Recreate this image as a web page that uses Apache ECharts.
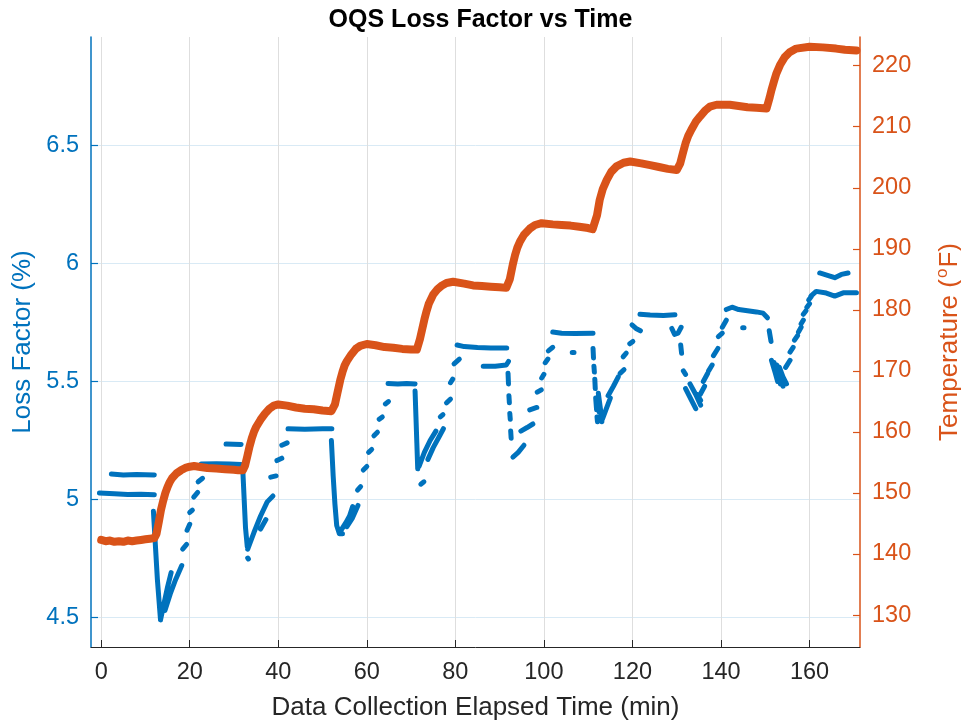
<!DOCTYPE html>
<html>
<head>
<meta charset="utf-8">
<title>OQS Loss Factor vs Time</title>
<script src="https://cdn.jsdelivr.net/npm/echarts@6/dist/echarts.min.js"></script>
<style>
  html, body { margin: 0; padding: 0; background: #ffffff; }
  #chart { width: 961px; height: 725px; }
</style>
</head>
<body>
<div id="chart"></div>
<script>
// Oil temperature readings (minutes, deg F)
const tempTime = [
  0, 1, 2, 3, 4, 5, 6, 7, 8, 9, 10, 11, 12,
  12.5, 13, 13.5, 14, 14.5, 15, 15.5, 16, 17, 18, 19, 20, 21, 22, 24, 26, 28, 30, 31, 32,
  32.5, 33, 33.5, 34, 34.5, 35, 36, 37, 38, 39, 40, 42, 44, 46, 48, 50, 52,
  52.8, 53.3, 54, 54.5, 55, 55.5, 56.5, 57.5, 58.5, 60, 62, 64, 66, 68, 70, 71.3,
  72, 72.5, 73, 73.5, 74, 75, 76, 77, 78, 79.5, 82, 84, 86, 88, 90, 91.5,
  92.3, 93, 93.5, 94, 94.6, 95.5, 96.8, 98, 99.5, 102, 104, 106, 108, 110, 111,
  112, 112.6, 113.3, 114.2, 115.2, 116.4, 118, 119.5, 122, 124, 126, 128, 130,
  130.8, 131.4, 132, 132.6, 133.3, 134.3, 135.3, 136.5, 137.5, 139, 142, 144, 146, 148, 150.3,
  151, 151.4, 152, 152.5, 153.4, 154.4, 155.5, 157, 160, 163, 166, 168, 170.6
];
const tempF = [
  142.3, 142.1, 142.2, 142.0, 142.1, 142.0, 142.2, 142.1, 142.2, 142.3, 142.4, 142.5, 142.6,
  143.3, 145.2, 147.2, 148.7, 150.0, 151.0, 151.8, 152.4, 153.2, 153.7, 154.1, 154.3, 154.4, 154.3, 154.1, 154.0, 153.9, 153.8, 153.7, 153.7,
  154.5, 156.0, 157.6, 158.9, 160.0, 160.8, 162.0, 163.0, 163.8, 164.3, 164.5, 164.3, 164.0, 163.8, 163.7, 163.5, 163.4,
  164.5, 166.2, 168.5, 169.8, 170.9, 171.6, 172.7, 173.6, 174.1, 174.4, 174.2, 173.9, 173.8, 173.6, 173.5, 173.5,
  175.2, 176.8, 178.4, 179.8, 181.0, 182.5, 183.4, 184.0, 184.4, 184.6, 184.3, 184.0, 183.9, 183.8, 183.7, 183.6,
  185.0, 187.5, 189.0, 190.2, 191.2, 192.3, 193.3, 193.9, 194.2, 194.0, 193.9, 193.8, 193.6, 193.4, 193.2,
  195.5, 198.0, 199.8, 201.3, 202.6, 203.5, 204.1, 204.3, 204.0, 203.7, 203.4, 203.1, 202.9,
  204.0, 205.7, 207.3, 208.5, 209.5, 210.8, 211.7, 212.7, 213.3, 213.6, 213.6, 213.4, 213.2, 213.1, 213.0,
  214.8, 216.0, 217.5, 218.7, 220.2, 221.4, 222.2, 222.8, 223.1, 223.0, 222.8, 222.6, 222.5
];

// Loss factor readings (minutes, %), grouped into the runs in which they were logged
const lossRuns = [
  // 142 F hold
  [[-0.4, 5.028], [3, 5.024], [6, 5.021], [9, 5.022], [12.0, 5.020]],
  [[2.3, 5.108], [5, 5.104], [8, 5.106], [12.0, 5.104]],
  [[11.8, 4.95], [12.2, 4.82], [12.7, 4.66], [13.4, 4.49]],
  [[13.4, 4.49], [14.2, 4.56], [15.0, 4.63], [15.8, 4.69]],
  [[14.4, 4.53], [15.6, 4.60], [16.8, 4.66], [18.2, 4.72]],
  [[14.9, 4.56], [15.3, 4.59]],
  [[18.4, 4.79], [19.3, 4.81]],
  [[19.4, 4.87], [20.0, 4.895]],
  [[20.0, 4.945], [20.6, 4.955]],
  [[20.9, 5.01], [21.8, 5.03]],
  [[21.9, 5.075], [22.9, 5.09]],
  // 154 F hold
  [[22.6, 5.15], [26, 5.152], [29, 5.15], [31.6, 5.148]],
  [[28.2, 5.235], [31.6, 5.233]],
  [[32.0, 5.12], [32.3, 5.0], [32.6, 4.88], [33.0, 4.80]],
  [[33.1, 4.752], [33.25, 4.748]],
  [[33.1, 4.79], [34.5, 4.86], [36.0, 4.93], [37.5, 4.99], [38.8, 5.015]],
  [[36.0, 4.875], [37.2, 4.915]],
  [[38.3, 5.095], [39.5, 5.10]],
  [[39.7, 5.165], [40.8, 5.175]],
  [[40.8, 5.23], [42.0, 5.24]],
  // 164 F hold
  [[42.2, 5.30], [46, 5.298], [50, 5.30], [52.1, 5.30]],
  [[52.0, 5.25], [52.4, 5.10], [52.8, 4.98], [53.2, 4.89], [53.8, 4.855], [54.5, 4.855]],
  [[54.2, 4.87], [55.2, 4.90], [56.1, 4.93], [56.8, 4.97]],
  [[55.5, 4.885], [56.7, 4.92], [58.0, 4.975]],
  [[57.9, 5.04], [58.6, 5.055]],
  [[59.2, 5.125], [60.0, 5.14]],
  [[60.4, 5.20], [61.1, 5.212]],
  [[61.6, 5.27], [62.4, 5.285]],
  [[62.8, 5.34], [63.5, 5.35]],
  [[64.2, 5.405], [64.9, 5.415]],
  // 174 F hold
  [[64.8, 5.492], [67, 5.49], [69, 5.492], [70.9, 5.49]],
  [[70.9, 5.46], [71.1, 5.35], [71.3, 5.24], [71.5, 5.13]],
  [[72.2, 5.065], [72.9, 5.075]],
  [[71.8, 5.14], [73.0, 5.20], [74.3, 5.25], [75.6, 5.29]],
  [[73.8, 5.17], [75.0, 5.22], [76.3, 5.265], [77.3, 5.30]],
  [[76.6, 5.35], [77.2, 5.36]],
  [[78.0, 5.41], [78.9, 5.425]],
  [[78.9, 5.495], [79.4, 5.51]],
  [[79.7, 5.575], [80.9, 5.595]],
  // 184 F hold
  [[80.4, 5.655], [82, 5.648], [85, 5.644], [88, 5.642], [91.6, 5.642]],
  [[86.3, 5.565], [89, 5.565], [91.5, 5.57], [92.0, 5.585]],
  [[91.9, 5.535], [92.0, 5.49]],
  [[92.1, 5.44], [92.2, 5.41]],
  [[92.3, 5.365], [92.4, 5.34]],
  [[92.5, 5.29], [92.6, 5.26]],
  [[93.0, 5.18], [94.2, 5.20], [95.5, 5.23]],
  [[94.8, 5.29], [96.2, 5.305], [97.5, 5.32]],
  [[96.8, 5.38], [98.4, 5.39]],
  [[98.5, 5.455], [99.4, 5.465]],
  [[99.5, 5.515], [100.0, 5.53]],
  [[100.3, 5.58], [100.9, 5.595]],
  [[101.0, 5.63], [102.0, 5.645]],
  // 194 F hold
  [[102.0, 5.71], [104, 5.705], [107, 5.703], [111.1, 5.705]],
  [[106.4, 5.623], [106.8, 5.623]],
  [[111.1, 5.64], [111.2, 5.60]],
  [[111.3, 5.565], [111.4, 5.54]],
  [[111.5, 5.51], [111.6, 5.47]],
  [[111.7, 5.43], [111.9, 5.38]],
  [[112.0, 5.35], [112.1, 5.33]],
  [[112.3, 5.45], [112.8, 5.38], [113.1, 5.33]],
  [[112.0, 5.42], [112.5, 5.37]],
  [[113.2, 5.34], [114.0, 5.38], [115.0, 5.43]],
  [[114.5, 5.44], [115.7, 5.48], [116.8, 5.52]],
  [[117.2, 5.535], [118.1, 5.55]],
  [[117.9, 5.605], [118.6, 5.62]],
  [[119.4, 5.66], [120.1, 5.67]],
  [[119.9, 5.74], [120.8, 5.725], [121.8, 5.715]],
  // 204 F hold
  [[121.7, 5.785], [124, 5.782], [127, 5.78], [129.6, 5.783]],
  [[128.9, 5.725], [129.5, 5.70], [130.3, 5.705], [131.0, 5.73]],
  [[130.9, 5.655], [131.1, 5.62]],
  [[131.5, 5.545], [132.0, 5.53]],
  [[132.0, 5.47], [133.2, 5.425], [134.3, 5.385]],
  [[133.0, 5.49], [134.3, 5.445], [135.4, 5.40]],
  [[134.6, 5.445], [135.4, 5.42]],
  [[135.3, 5.445], [136.3, 5.48]],
  [[136.0, 5.50], [137.0, 5.535]],
  [[137.2, 5.545], [138.0, 5.57]],
  [[138.3, 5.61], [139.3, 5.64]],
  [[139.4, 5.69], [140.3, 5.705]],
  [[140.3, 5.73], [141.2, 5.76]],
  // 213 F hold
  [[141.2, 5.805], [142.5, 5.815], [144, 5.805], [146, 5.80], [148, 5.795], [149.5, 5.79], [150.5, 5.77]],
  [[144.9, 5.728], [145.2, 5.728]],
  [[150.9, 5.715], [151.3, 5.67]],
  [[151.4, 5.59], [152.2, 5.54], [152.8, 5.50]],
  [[152.0, 5.58], [152.8, 5.53], [153.4, 5.49]],
  [[152.6, 5.57], [153.3, 5.52], [154.0, 5.48]],
  [[153.2, 5.56], [154.0, 5.52], [154.8, 5.49]],
  [[154.6, 5.56], [155.6, 5.59]],
  [[155.6, 5.625], [156.3, 5.645]],
  [[156.6, 5.675], [157.3, 5.695]],
  [[157.5, 5.71], [158.1, 5.73]],
  [[158.1, 5.745], [158.6, 5.76]],
  [[158.6, 5.785], [159.2, 5.80]],
  [[159.4, 5.815], [160.0, 5.83]],
  [[159.8, 5.845], [160.4, 5.86]],
  // 223 F hold
  [[160.3, 5.862], [161.5, 5.882], [163.8, 5.875], [165.7, 5.862], [167.6, 5.876], [170.6, 5.876]],
  [[162.3, 5.96], [164.6, 5.947], [165.7, 5.94], [167.2, 5.954], [168.7, 5.96]]
];

const timeTicks = [0, 20, 40, 60, 80, 100, 120, 140, 160];
const lossTicks = [4.5, 5, 5.5, 6, 6.5];
const tempTicks = [130, 140, 150, 160, 170, 180, 190, 200, 210, 220];

const BLUE = '#0072BD';
const ORANGE = '#D95319';
const INK = '#262626';
const FONT = '"Liberation Sans", Arial, Helvetica, sans-serif';

// each run becomes its own stretch of the polyline; null points break it
const lossData = [];
lossRuns.forEach(function (run, i) {
  if (i > 0) lossData.push([null, null]);
  run.forEach(function (p) { lossData.push(p); });
});
const tempData = tempTime.map(function (t, i) { return [t, tempF[i]]; });

const chart = echarts.init(document.getElementById('chart'), null, { renderer: 'canvas' });

chart.setOption({
  animation: false,
  backgroundColor: '#ffffff',
  title: {
    text: 'OQS Loss Factor vs Time',
    left: 'center',
    top: 3,
    textStyle: { fontFamily: FONT, fontSize: 25, fontWeight: 'bold', color: '#000000' }
  },
  grid: { left: 91, right: 101, top: 37, bottom: 78, containLabel: false, outerBoundsMode: 'none' },
  xAxis: {
    type: 'value',
    min: -2.3,
    max: 171.4,
    name: 'Data Collection Elapsed Time (min)',
    nameLocation: 'middle',
    nameGap: 48,
    nameTextStyle: { fontFamily: FONT, fontSize: 26, color: INK },
    axisLine: { show: true, onZero: false, lineStyle: { color: INK, width: 1 } },
    axisTick: { show: true, inside: true, length: 7, customValues: timeTicks, lineStyle: { color: INK } },
    axisLabel: { customValues: timeTicks, margin: 14, fontFamily: FONT, fontSize: 23.5, color: INK },
    splitLine: { show: true, lineStyle: { color: '#dedede', width: 1 } }
  },
  yAxis: [
    {
      type: 'value',
      position: 'left',
      min: 4.375,
      max: 6.96,
      name: 'Loss Factor (%)',
      nameLocation: 'middle',
      nameRotate: 90,
      nameGap: 55,
      nameTextStyle: { fontFamily: FONT, fontSize: 26, color: BLUE },
      axisLine: { show: true, onZero: false, lineStyle: { color: BLUE, width: 1.5 } },
      axisTick: { show: true, inside: true, length: 7, customValues: lossTicks, lineStyle: { color: BLUE, width: 1.2 } },
      axisLabel: { customValues: lossTicks, margin: 12, fontFamily: FONT, fontSize: 23.5, color: BLUE },
      splitLine: { show: true, lineStyle: { color: '#d9eaf5', width: 1 } }
    },
    {
      type: 'value',
      position: 'right',
      min: 124.76,
      max: 224.7,
      name: '{n|Temperature (}{sup|o}{n|F)}',
      nameLocation: 'middle',
      nameRotate: 90,
      nameGap: 74,
      nameTextStyle: {
        fontFamily: FONT, fontSize: 26, color: ORANGE,
        rich: {
          n: { fontFamily: FONT, fontSize: 26, color: ORANGE },
          sup: { fontFamily: FONT, fontSize: 17, color: ORANGE, verticalAlign: 'top', padding: [0, 1, 14, 1] }
        }
      },
      axisLine: { show: true, onZero: false, lineStyle: { color: ORANGE, width: 1.5 } },
      axisTick: { show: true, inside: true, length: 7, customValues: tempTicks, lineStyle: { color: ORANGE, width: 1.2 } },
      axisLabel: { customValues: tempTicks, margin: 12, fontFamily: FONT, fontSize: 23.5, color: ORANGE },
      splitLine: { show: false }
    }
  ],
  series: [
    {
      name: 'Loss Factor',
      type: 'line',
      yAxisIndex: 0,
      data: lossData,
      connectNulls: false,
      showSymbol: false,
      symbol: 'none',
      lineStyle: { color: BLUE, width: 5, cap: 'round', join: 'round' },
      z: 2
    },
    {
      name: 'Temperature',
      type: 'line',
      yAxisIndex: 1,
      data: tempData,
      showSymbol: false,
      symbol: 'none',
      lineStyle: { color: ORANGE, width: 8, cap: 'round', join: 'round' },
      z: 3
    }
  ]
});
</script>
</body>
</html>
